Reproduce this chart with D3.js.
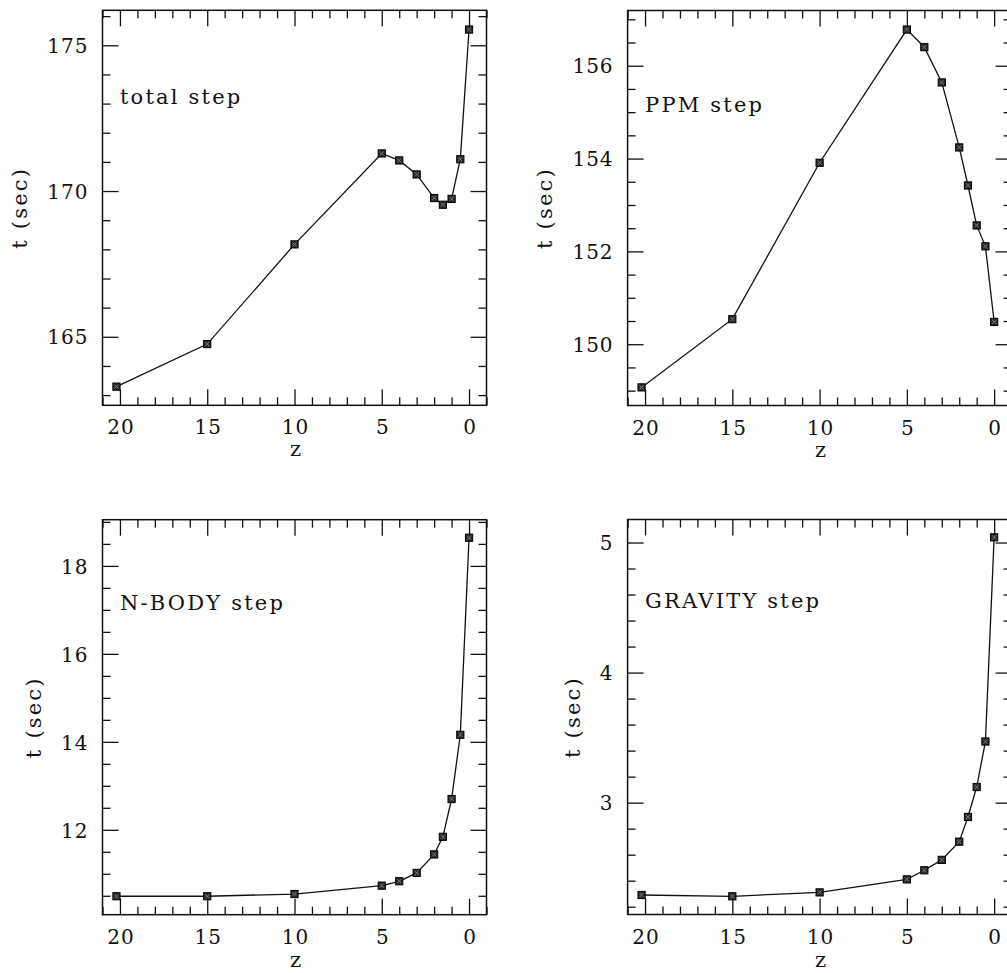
<!DOCTYPE html>
<html>
<head>
<meta charset="utf-8">
<script src="https://cdn.jsdelivr.net/npm/d3@7"></script>
<style>
  html, body { margin: 0; padding: 0; background: #fff; }
  svg { display: block; }
  text { font-family: "DejaVu Serif", "Liberation Serif", serif; fill: #111; }
</style>
</head>
<body>
<svg id="chart" width="1007" height="973"></svg>
<script>
// ---- data ----
const redshift = [20.2, 15, 10, 5, 4, 3, 2, 1.5, 1, 0.5, 0];
const totalStep = [163.29, 164.75, 168.17, 171.29, 171.05, 170.57, 169.76, 169.53, 169.73, 171.09, 175.54];
const ppmStep = [149.07, 150.54, 153.91, 156.78, 156.40, 155.64, 154.24, 153.42, 152.56, 152.11, 150.48];
const nbodyStep = [10.49, 10.49, 10.54, 10.73, 10.83, 11.02, 11.44, 11.84, 12.70, 14.16, 18.64];
const gravityStep = [2.29, 2.28, 2.31, 2.41, 2.48, 2.56, 2.70, 2.89, 3.12, 3.47, 5.04];

const panelTitles = ["total step", "PPM step", "N-BODY step", "GRAVITY step"];
const xMajorTicks = [20, 15, 10, 5, 0];
const xMinorStep = 1;
const xTitle = "z";
const yTitle = "t (sec)";

const yDomains = [[162.65, 176.2], [148.68, 157.19], [10.07, 19.05], [2.14, 5.177]];
const yMajorTicks = [[165, 170, 175], [150, 152, 154, 156], [12, 14, 16, 18], [3, 4, 5]];
const yMinorSteps = [1, 0.5, 0.5, 0.2];
const titleAnchor = [[20, 173], [20, 155], [20, 17], [20, 4.5]];
const seriesList = [totalStep, ppmStep, nbodyStep, gravityStep];

// ---- layout ----
const panelW = 384, panelH = 395;
const origins = [[102.5, 10.3], [627.6, 10.5], [102.5, 519.7], [627.6, 519.5]];
const xTitleOffsets = [51, 51, 52, 52];
const majorLen = 16, minorLen = 8;
const tickFont = 20, tickLS = 1;
const labelFont = 21, labelLS = 2.2;

const svg = d3.select("#chart");

function rangeTicks(lo, hi, step) {
  const out = [];
  const start = Math.ceil(lo / step - 1e-9);
  const end = Math.floor(hi / step + 1e-9);
  for (let i = start; i <= end; i++) out.push(+(i * step).toFixed(6));
  return out;
}

seriesList.forEach((vals, i) => {
  const [ox, oy] = origins[i];
  const g = svg.append("g").attr("transform", `translate(${ox},${oy})`);

  const x = d3.scaleLinear().domain([21, -1]).range([0, panelW]);
  const y = d3.scaleLinear().domain(yDomains[i]).range([panelH, 0]);

  const xMinor = rangeTicks(-1, 21, xMinorStep).filter(v => !xMajorTicks.includes(v));
  const yMinor = rangeTicks(yDomains[i][0], yDomains[i][1], yMinorSteps[i])
      .filter(v => !yMajorTicks[i].some(m => Math.abs(m - v) < 1e-6));

  function tickAxis(gen, vals, len, transform, withLabels) {
    const a = gen.tickValues(vals).tickSizeInner(-len).tickSizeOuter(0);
    if (!withLabels) a.tickFormat("");
    const ag = g.append("g").attr("transform", transform).call(a);
    ag.select(".domain").remove();
    ag.selectAll(".tick line").attr("stroke", "#111").attr("stroke-width", 1.3);
    return ag;
  }

  const bx = tickAxis(d3.axisBottom(x), xMajorTicks, majorLen, `translate(0,${panelH})`, true);
  tickAxis(d3.axisBottom(x), xMinor, minorLen, `translate(0,${panelH})`, false);
  tickAxis(d3.axisTop(x), xMajorTicks, majorLen, `translate(0,0)`, false);
  tickAxis(d3.axisTop(x), xMinor, minorLen, `translate(0,0)`, false);
  const ly = tickAxis(d3.axisLeft(y), yMajorTicks[i], majorLen, `translate(0,0)`, true);
  tickAxis(d3.axisLeft(y), yMinor, minorLen, `translate(0,0)`, false);
  tickAxis(d3.axisRight(y), yMajorTicks[i], majorLen, `translate(${panelW},0)`, false);
  tickAxis(d3.axisRight(y), yMinor, minorLen, `translate(${panelW},0)`, false);

  bx.selectAll(".tick text")
    .attr("y", 29).attr("dy", null).attr("dx", tickLS / 2)
    .attr("font-family", "DejaVu Serif").attr("font-size", tickFont)
    .attr("letter-spacing", tickLS).attr("fill", "#111")
    .text(d => d3.format("d")(d));
  ly.selectAll(".tick text")
    .attr("x", -15 + tickLS).attr("dy", "0.36em")
    .attr("font-family", "DejaVu Serif").attr("font-size", tickFont)
    .attr("letter-spacing", tickLS).attr("fill", "#111")
    .text(d => d3.format("d")(d));

  g.append("rect").attr("x", 0).attr("y", 0).attr("width", panelW).attr("height", panelH)
    .attr("fill", "none").attr("stroke", "#111").attr("stroke-width", 1.5);

  let minLeft = 0;
  ly.selectAll(".tick text").each(function () {
    const b = this.getBBox();
    minLeft = Math.min(minLeft, b.x);
  });
  g.append("text")
    .attr("transform", `translate(${minLeft - 20},${panelH / 2}) rotate(-90)`)
    .attr("text-anchor", "middle")
    .attr("font-size", labelFont).attr("letter-spacing", labelLS)
    .text(yTitle);

  g.append("text")
    .attr("x", panelW / 2 + 1).attr("y", panelH + xTitleOffsets[i])
    .attr("text-anchor", "middle")
    .attr("font-size", labelFont)
    .text(xTitle);

  g.append("text")
    .attr("x", x(titleAnchor[i][0])).attr("y", y(titleAnchor[i][1]))
    .attr("font-size", labelFont).attr("letter-spacing", labelLS)
    .text(panelTitles[i]);

  const pts = redshift.map((z, k) => [z, vals[k]]);
  g.append("path")
    .datum(pts)
    .attr("fill", "none").attr("stroke", "#111").attr("stroke-width", 1.3)
    .attr("d", d3.line().x(d => x(d[0])).y(d => y(d[1])));

  const s = 3.6;
  const mk = g.append("g").selectAll("g").data(pts).join("g")
    .attr("transform", d => `translate(${x(d[0])},${y(d[1])})`);
  mk.append("rect").attr("x", -s).attr("y", -s).attr("width", 2 * s).attr("height", 2 * s)
    .attr("fill", "#2a2a2a").attr("stroke", "#000").attr("stroke-width", 1);
  mk.append("path").attr("d", `M${-s + 1.5},${-s + 1.5}L${s - 1.5},${s - 1.5}M${s - 1.5},${-s + 1.5}L${-s + 1.5},${s - 1.5}`)
    .attr("stroke", "#8a8a8a").attr("stroke-width", 0.8);
});
</script>
</body>
</html>
